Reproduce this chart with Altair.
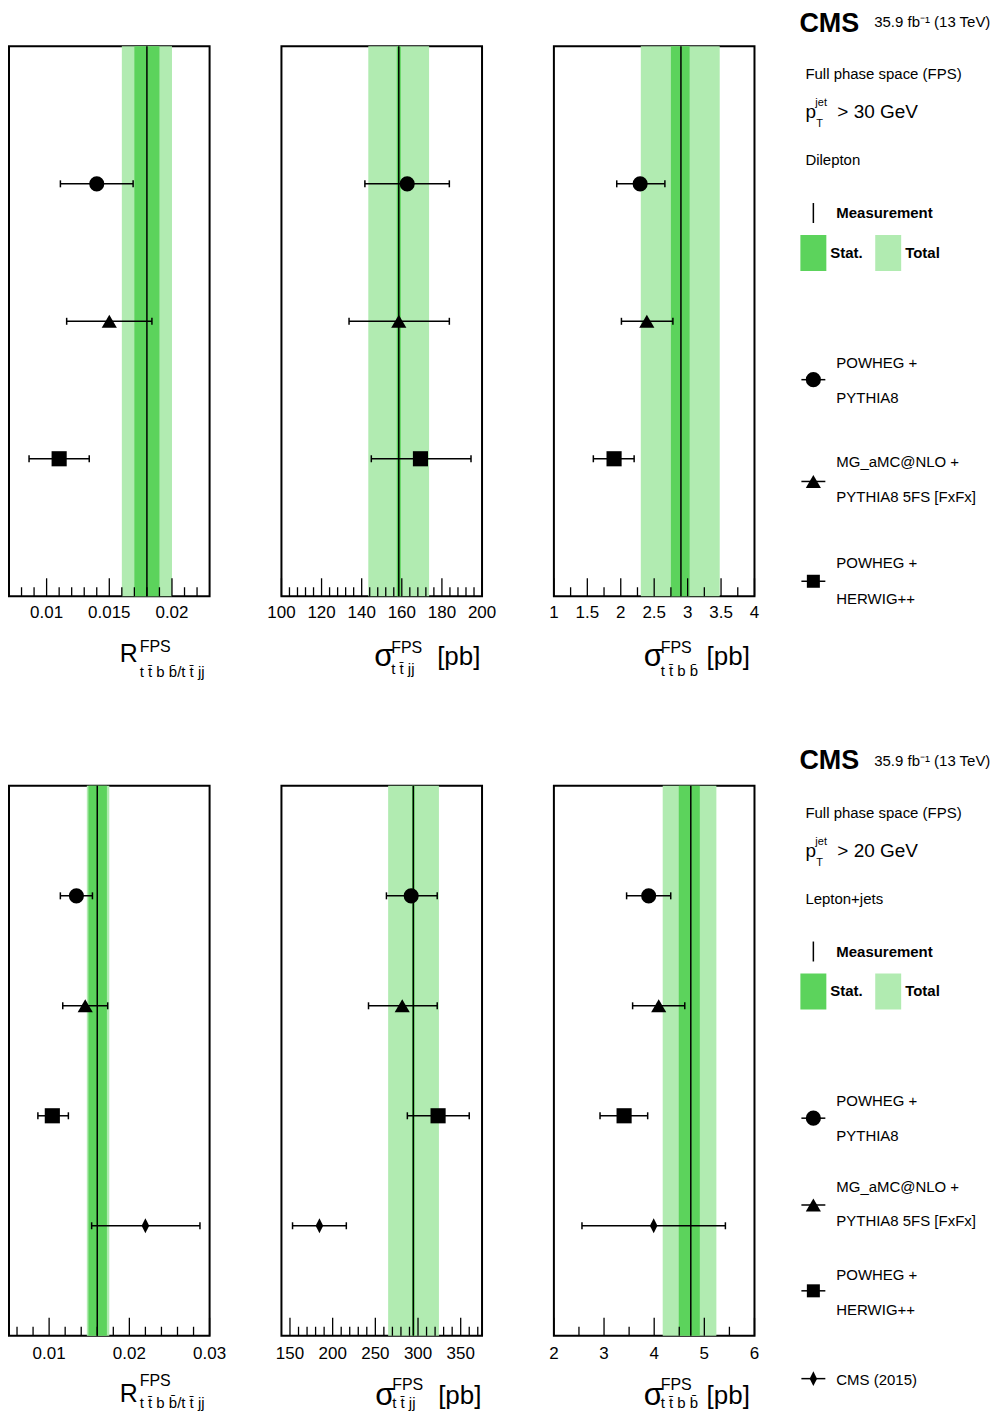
import altair as alt
import pandas as pd

W, H = 201, 551
FONT = "Liberation Sans"
DARK = "#5cd35c"
LIGHT = "#b1ebb1"
DIAMOND = "M0,-1L0.5,0L0,1L-0.5,0Z"

model_keys = ["circle", "triangle", "square", "diamond"]
shape_marks = ["circle", "triangle-up", "square", DIAMOND]
shape_sizes = [230, 230, 170, 220]

# ---------------- Row 1 : Dilepton, pT(jet) > 30 GeV ----------------
r1a_domain = [0.007, 0.023]
r1a_meas = 0.0180
r1a_stat = [0.0170, 0.0190]
r1a_total = [0.0160, 0.0200]
r1a_val = [0.0140, 0.0150, 0.0110]
r1a_lo = [0.0111, 0.0116, 0.0086]
r1a_hi = [0.0169, 0.0184, 0.0134]
r1a_major = [0.01, 0.015, 0.02]
r1a_labels = ["0.01", "0.015", "0.02"]
r1a_minor = [0.008, 0.009, 0.011, 0.012, 0.013, 0.014, 0.016, 0.017, 0.018,
             0.019, 0.021, 0.022]

r1b_domain = [100, 200]
r1b_meas = 158.5
r1b_stat = [157.5, 159.5]
r1b_total = [143.3, 173.6]
r1b_val = [162.7, 158.5, 169.3]
r1b_lo = [141.6, 133.7, 144.8]
r1b_hi = [183.7, 183.7, 194.5]
r1b_major = [100, 120, 140, 160, 180, 200]
r1b_labels = ["100", "120", "140", "160", "180", "200"]
r1b_minor = [104, 108, 112, 116, 124, 128, 132, 136, 144, 148, 152, 156,
             164, 168, 172, 176, 184, 188, 192, 196]

r1c_domain = [1, 4]
r1c_meas = 2.90
r1c_stat = [2.75, 3.03]
r1c_total = [2.30, 3.48]
r1c_val = [2.29, 2.39, 1.90]
r1c_lo = [1.94, 2.01, 1.59]
r1c_hi = [2.66, 2.78, 2.20]
r1c_major = [1, 1.5, 2, 2.5, 3, 3.5, 4]
r1c_labels = ["1", "1.5", "2", "2.5", "3", "3.5", "4"]
r1c_minor = [1.25, 1.75, 2.25, 2.75, 3.25, 3.75]

# ---------------- Row 2 : Lepton+jets, pT(jet) > 20 GeV ----------------
r2a_domain = [0.005, 0.03]
r2a_meas = 0.0160
r2a_stat = [0.0149, 0.0172]
r2a_total = [0.0147, 0.0175]
r2a_val = [0.0134, 0.0145, 0.0104, 0.0220]
r2a_lo = [0.0114, 0.0117, 0.0086, 0.0153]
r2a_hi = [0.0154, 0.0173, 0.0124, 0.0288]
r2a_major = [0.01, 0.02, 0.03]
r2a_labels = ["0.01", "0.02", "0.03"]
r2a_minor = [0.006, 0.008, 0.012, 0.014, 0.016, 0.018, 0.022, 0.024, 0.026, 0.028]

r2b_domain = [140, 375]
r2b_meas = 294.5
r2b_stat = [293.0, 296.0]
r2b_total = [265.0, 324.5]
r2b_val = [292.0, 281.5, 323.5, 184.5]
r2b_lo = [263.0, 242.0, 287.5, 153.0]
r2b_hi = [322.5, 322.5, 360.0, 216.0]
r2b_major = [150, 200, 250, 300, 350]
r2b_labels = ["150", "200", "250", "300", "350"]
r2b_minor = [160, 170, 180, 190, 210, 220, 230, 240, 260, 270, 280, 290,
             310, 320, 330, 340, 360, 370]

r2c_domain = [2, 6]
r2c_meas = 4.73
r2c_stat = [4.49, 4.91]
r2c_total = [4.17, 5.24]
r2c_val = [3.89, 4.09, 3.40, 3.99]
r2c_lo = [3.45, 3.57, 2.92, 2.56]
r2c_hi = [4.33, 4.61, 3.87, 5.42]
r2c_major = [2, 3, 4, 5, 6]
r2c_labels = ["2", "3", "4", "5", "6"]
r2c_minor = [2.5, 3.5, 4.5, 5.5]

legend_names = [["POWHEG +", "PYTHIA8"],
                ["MG_aMC@NLO +", "PYTHIA8 5FS [FxFx]"],
                ["POWHEG +", "HERWIG++"],
                ["CMS (2015)"]]

dummy = pd.DataFrame({"d": [0]})


def txt(s, x, y, size, bold=False, align="left", baseline="middle"):
    return alt.Chart(dummy).mark_text(
        text=s, align=align, baseline=baseline, fontSize=size, font=FONT,
        fontWeight="bold" if bold else "normal", color="black"
    ).encode(x=alt.value(x), y=alt.value(y))


def panel(domain, meas, stat, total, vals, los, his, majors, labels, minors,
          nslots, label_dy, title_layers):
    n = len(vals)
    xs = alt.Scale(domain=domain, nice=False, zero=False)
    ys = alt.Scale(domain=[0, nslots], reverse=True, nice=False, zero=False)
    pts = pd.DataFrame({"pos": list(range(1, n + 1)), "val": vals, "lo": los,
                        "hi": his, "model": model_keys[:n]})
    caps = pd.concat([
        pd.DataFrame({"pos": list(range(1, n + 1)), "x": los}),
        pd.DataFrame({"pos": list(range(1, n + 1)), "x": his}),
    ])
    ticks_major = pd.DataFrame({"x": majors, "lab": labels})
    ticks_minor = pd.DataFrame({"x": minors})

    total_band = alt.Chart(pd.DataFrame({"lo": [total[0]], "hi": [total[1]]})).mark_rect(
        color=LIGHT).encode(
        x=alt.X("lo:Q", scale=xs, axis=None), x2="hi:Q",
        y=alt.value(0), y2=alt.value(H))
    stat_band = alt.Chart(pd.DataFrame({"lo": [stat[0]], "hi": [stat[1]]})).mark_rect(
        color=DARK).encode(
        x=alt.X("lo:Q", scale=xs, axis=None), x2="hi:Q",
        y=alt.value(0), y2=alt.value(H))
    meas_line = alt.Chart(pd.DataFrame({"m": [meas]})).mark_rule(
        color="black", strokeWidth=1.5).encode(
        x=alt.X("m:Q", scale=xs, axis=None), y=alt.value(0), y2=alt.value(H))
    err = alt.Chart(pts).mark_rule(color="black", strokeWidth=1.5).encode(
        x=alt.X("lo:Q", scale=xs, axis=None), x2="hi:Q",
        y=alt.Y("pos:Q", scale=ys, axis=None))
    cap = alt.Chart(caps).mark_tick(color="black", orient="vertical", size=7,
                                    thickness=1.5, opacity=1).encode(
        x=alt.X("x:Q", scale=xs, axis=None),
        y=alt.Y("pos:Q", scale=ys, axis=None))
    mk = alt.Chart(pts).mark_point(filled=True, color="black", opacity=1).encode(
        x=alt.X("val:Q", scale=xs, axis=None),
        y=alt.Y("pos:Q", scale=ys, axis=None),
        shape=alt.Shape("model:N", scale=alt.Scale(domain=model_keys, range=shape_marks),
                        legend=None),
        size=alt.Size("model:N", scale=alt.Scale(domain=model_keys, range=shape_sizes),
                      legend=None))
    tmaj = alt.Chart(ticks_major).mark_rule(color="black", strokeWidth=1.3).encode(
        x=alt.X("x:Q", scale=xs, axis=None), y=alt.value(H), y2=alt.value(H - 18))
    tmin = alt.Chart(ticks_minor).mark_rule(color="black", strokeWidth=1.3).encode(
        x=alt.X("x:Q", scale=xs, axis=None), y=alt.value(H), y2=alt.value(H - 9))
    tlab = alt.Chart(ticks_major).mark_text(
        font=FONT, fontSize=17, color="black", align="center", baseline="middle").encode(
        x=alt.X("x:Q", scale=xs, axis=None), y=alt.value(H + label_dy),
        text="lab:N")
    layers = [total_band, stat_band, meas_line, err, cap, mk, tmaj, tmin, tlab] + title_layers
    return alt.layer(*layers).properties(width=W, height=H)


def title_R(sub, dy_main, dy_sup, dy_sub):
    return [txt("R", 111, H + dy_main, 25, baseline="alphabetic"),
            txt("FPS", 131, H + dy_sup, 16, baseline="alphabetic"),
            txt(sub, 131, H + dy_sub, 15, baseline="alphabetic")]


def title_sigma(sub, x0, dy_main, dy_sup, dy_sub):
    return [txt("σ", x0, H + dy_main, 31, baseline="alphabetic"),
            txt("FPS", x0 + 17, H + dy_sup, 16, baseline="alphabetic"),
            txt("[pb]", x0 + 63, H + dy_main - 1, 26, baseline="alphabetic"),
            txt(sub, x0 + 17, H + dy_sub, 15, baseline="alphabetic")]


def legend_layers(cut, channel, dy, cms_base):
    L = []
    L.append(txt("CMS", W + 45, cms_base, 27, bold=True, baseline="alphabetic"))
    L.append(txt("35.9 fb⁻¹ (13 TeV)", W + 120, -24 + dy, 15))
    L.append(txt("Full phase space (FPS)", W + 51, 28 + dy, 15))
    L.append(txt("p", W + 51, 72 + dy, 19, baseline="alphabetic"))
    L.append(txt("jet", W + 61, 57 + dy, 11))
    L.append(txt("T", W + 62, 78 + dy, 11))
    L.append(txt("> " + cut + " GeV", W + 83, 72 + dy, 19, baseline="alphabetic"))
    L.append(txt(channel, W + 51, 114 + dy, 15))
    # measurement
    L.append(alt.Chart(dummy).mark_rule(color="black", strokeWidth=1.5).encode(
        x=alt.value(W + 59), y=alt.value(157 + dy), y2=alt.value(177 + dy)))
    L.append(txt("Measurement", W + 82, 167 + dy, 15, bold=True))
    L.append(alt.Chart(dummy).mark_rect(color=DARK).encode(
        x=alt.value(W + 46), x2=alt.value(W + 72), y=alt.value(189 + dy), y2=alt.value(225 + dy)))
    L.append(txt("Stat.", W + 76, 207 + dy, 15, bold=True))
    L.append(alt.Chart(dummy).mark_rect(color=LIGHT).encode(
        x=alt.value(W + 121), x2=alt.value(W + 147), y=alt.value(189 + dy), y2=alt.value(225 + dy)))
    L.append(txt("Total", W + 151, 207 + dy, 15, bold=True))
    return L


def model_legend(ys, text_ys):
    L = []
    for i, (ym, tys) in enumerate(zip(ys, text_ys)):
        L.append(alt.Chart(dummy).mark_rule(color="black", strokeWidth=1.5).encode(
            x=alt.value(W + 47), x2=alt.value(W + 71), y=alt.value(ym)))
        L.append(alt.Chart(dummy).mark_point(
            shape=shape_marks[i], size=shape_sizes[i], filled=True, color="black",
            opacity=1).encode(x=alt.value(W + 59), y=alt.value(ym)))
        for s, ty in zip(legend_names[i], tys):
            L.append(txt(s, W + 82, ty, 15))
    return L


SUB_R = "t t\u0304 b b\u0304/t t\u0304 jj"
SUB_TTJJ = "t t\u0304 jj"
SUB_TTBB = "t t\u0304 b b\u0304"

p11 = panel(r1a_domain, r1a_meas, r1a_stat, r1a_total, r1a_val, r1a_lo, r1a_hi,
            r1a_major, r1a_labels, r1a_minor, 4, 17, title_R(SUB_R, 66, 56, 81))
p12 = panel(r1b_domain, r1b_meas, r1b_stat, r1b_total, r1b_val, r1b_lo, r1b_hi,
            r1b_major, r1b_labels, r1b_minor, 4, 17,
            title_sigma(SUB_TTJJ, 93, 70, 57, 78))
p13 = panel(r1c_domain, r1c_meas, r1c_stat, r1c_total, r1c_val, r1c_lo, r1c_hi,
            r1c_major, r1c_labels, r1c_minor, 4, 17,
            title_sigma(SUB_TTBB, 90, 70, 57, 80)
            + legend_layers("30", "Dilepton", 0, -14)
            + model_legend([334, 436, 536], [[317, 352], [417, 452], [518, 554]]))

p21 = panel(r2a_domain, r2a_meas, r2a_stat, r2a_total, r2a_val, r2a_lo, r2a_hi,
            r2a_major, r2a_labels, r2a_minor, 5, 18, title_R(SUB_R, 66, 50, 72))
p22 = panel(r2b_domain, r2b_meas, r2b_stat, r2b_total, r2b_val, r2b_lo, r2b_hi,
            r2b_major, r2b_labels, r2b_minor, 5, 18,
            title_sigma(SUB_TTJJ, 94, 69, 54, 72))
p23 = panel(r2c_domain, r2c_meas, r2c_stat, r2c_total, r2c_val, r2c_lo, r2c_hi,
            r2c_major, r2c_labels, r2c_minor, 5, 18,
            title_sigma(SUB_TTBB, 90, 69, 54, 72)
            + legend_layers("20", "Lepton+jets", -1, -17)
            + model_legend([333, 420, 506, 594], [[316, 351], [402, 436], [490, 525], [595]]))

chart = alt.concat(p11, p12, p13, p21, p22, p23, columns=3, bounds="flush",
                   spacing=alt.RowColnumber(row=190, column=72)).properties(
    padding={"left": 0, "top": 0, "right": 0, "bottom": 0},
    background="white"
).configure_view(stroke="black", strokeWidth=2)

chart.save("out.html", embed_options={"renderer": "svg", "actions": False})
